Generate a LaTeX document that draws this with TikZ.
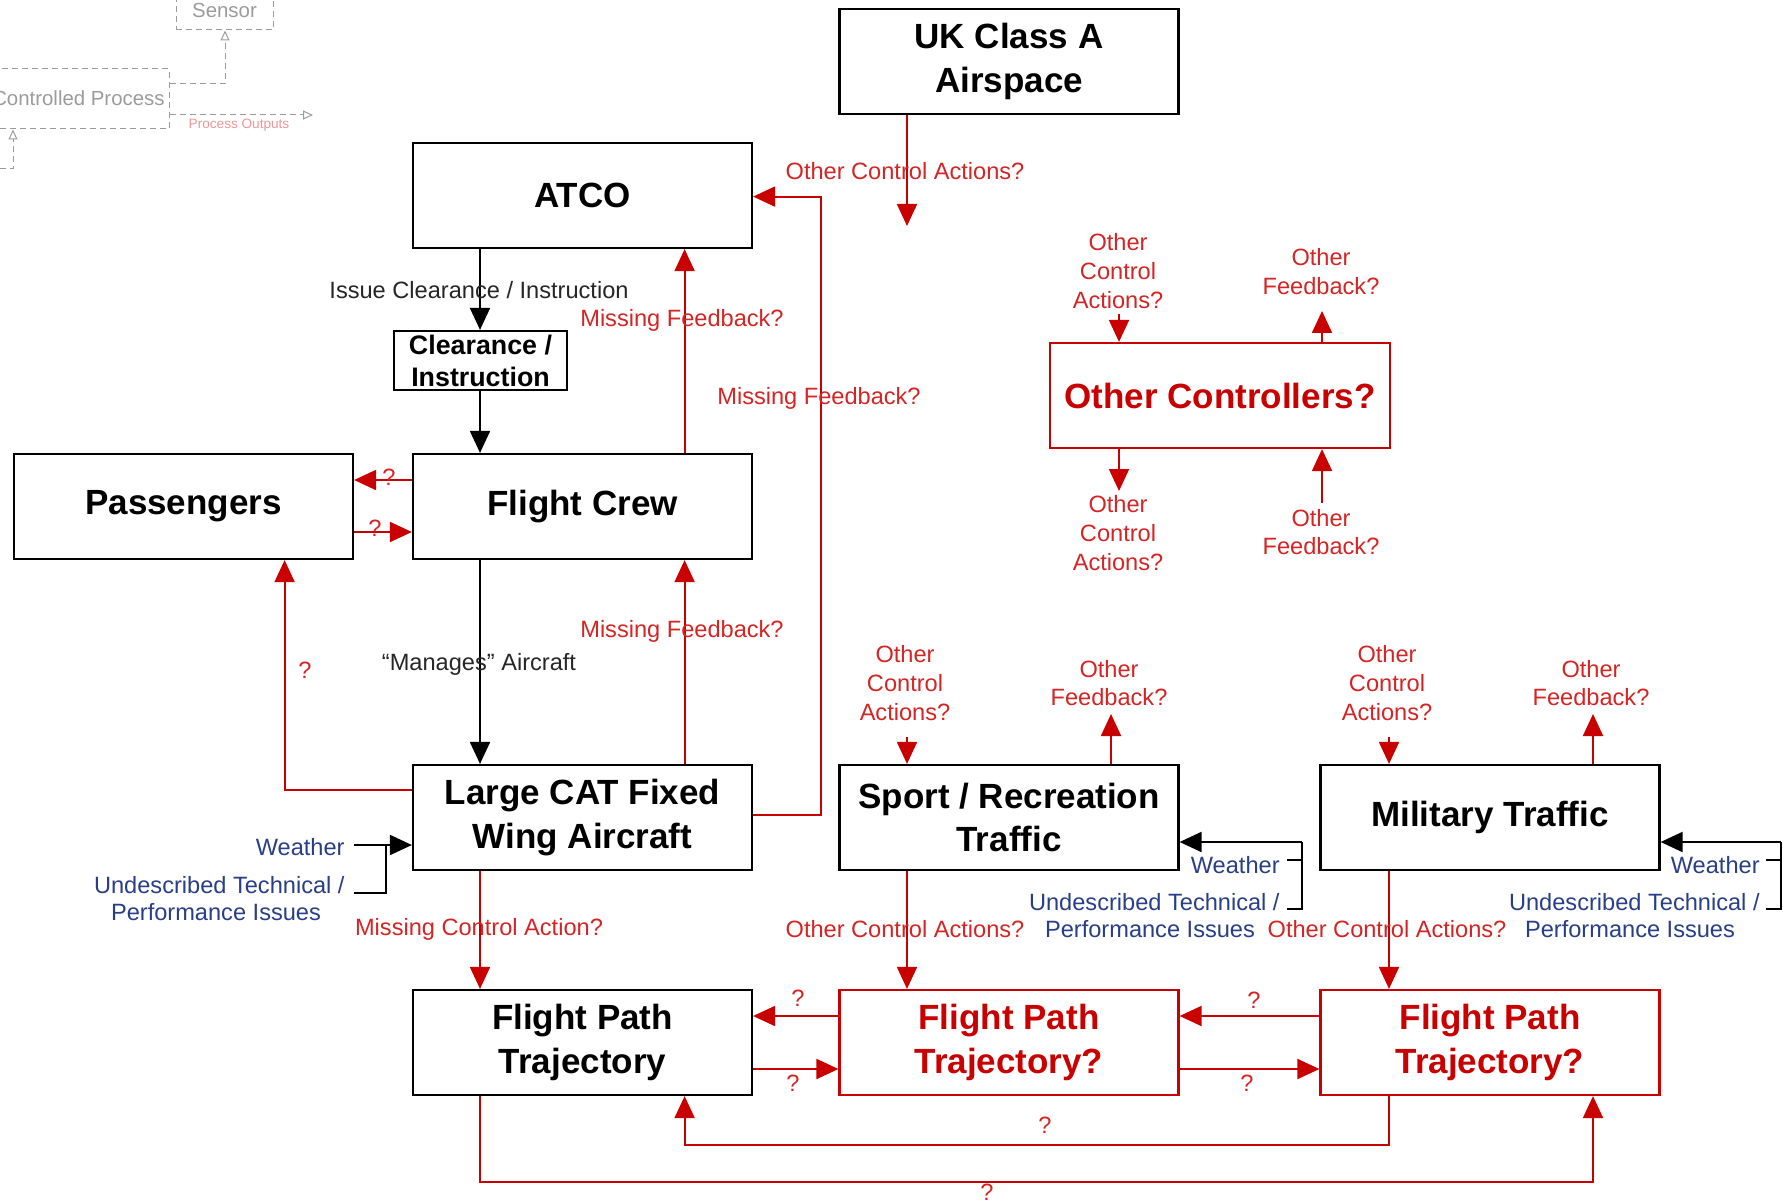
\documentclass[tikz,border=0pt]{standalone}
\usepackage{fontspec}
\setmainfont{Liberation Sans}
\usetikzlibrary{arrows.meta}
\definecolor{cRed}{RGB}{200,0,0}
\definecolor{cRedText}{RGB}{212,36,36}
\definecolor{cBlue}{RGB}{40,62,135}
\definecolor{cGray}{RGB}{155,155,155}
\definecolor{cPink}{RGB}{240,150,150}
\newcommand\boxfont{\fontsize{17.5}{21.7}\selectfont\bfseries}
\newcommand\smallboxfont{\fontsize{13.4}{16}\selectfont\bfseries}
\newcommand\labfont{\fontsize{11.8}{14.3}\selectfont}
\newcommand\ghostfont{\fontsize{10.2}{12}\selectfont}
\begin{document}
\begin{tikzpicture}[x=0.5pt,y=-0.5pt,
  box/.style={draw=black, line width=1.1pt, fill=white, minimum width=169.5pt,
    minimum height=52.5pt, inner sep=0pt, align=center, font=\boxfont},
  rbox/.style={box, draw=cRed, text=cRed},
  ctl/.style={draw=black, line width=1pt, -{Triangle[length=11pt,width=10pt]}},
  fb/.style={draw=cRed, line width=1pt, -{Triangle[length=11pt,width=10pt]}},
  plain/.style={draw=black, line width=1pt},
  rlab/.style={font=\labfont, text=cRedText, align=center, inner sep=0pt},
  klab/.style={font=\labfont, text=black!85, align=center, inner sep=0pt},
  blab/.style={font=\labfont, text=cBlue, align=center, inner sep=0pt},
  ghost/.style={draw=cGray, densely dashed, line width=0.5pt},
  ghostarrow/.style={ghost, -{Triangle[open,length=5pt,width=4.5pt]}},
  ghosttext/.style={font=\ghostfont, text=cGray, inner sep=0pt}]
\useasboundingbox (0,0) rectangle (1792,1203);
\clip (0,0) rectangle (1792,1203);

% faded legend fragment in the corner
\node[ghost, minimum width=134.5pt, minimum height=30pt, inner sep=0pt] (Proc) at (34.5,99) {};
\node[ghosttext, anchor=east] (ProcT) at (165,98) {Controlled Process};
\node[ghost, minimum width=48.5pt, minimum height=30pt, inner sep=0pt] (Sens) at (224.5,0) {};
\node[ghosttext] (SensT) at (224.5,10) {Sensor};
\coordinate (gS) at (225,84);
\coordinate (gO) at (313,115);
\coordinate (gL) at (0,169);
\coordinate (gB) at (13,169);
\draw[ghostarrow] (Proc.east |- gS) -- (gS) -- (Sens.south -| gS);
\draw[ghostarrow] (Proc.east |- gO) -- (gO);
\draw[ghostarrow] (gL) -- (gB) -- (Proc.south -| gB);
\node[font=\fontsize{6.8}{8}\selectfont, text=cPink, inner sep=0pt] (gOut) at (239,125) {Process Outputs};

% boxes
\node[box] (UK) at (1009,61.5) {UK Class A\\Airspace};
\node[box] (ATCO) at (582.5,195.5) {ATCO};
\node[box, minimum width=86.5pt, minimum height=29.5pt, font=\smallboxfont] (Clear) at (480.5,360.5) {Clearance /\\Instruction};
\node[box] (Pass) at (183.5,506.5) {Passengers};
\node[box] (FC) at (582.5,506.5) {Flight Crew};
\node[box] (CAT) at (582.5,817.5) {Large CAT Fixed\\Wing Aircraft};
\node[box] (Sport) at (1009,817.5) {Sport / Recreation\\Traffic};
\node[box] (Mil) at (1490,817.5) {Military Traffic};
\node[rbox, minimum width=170pt] (OC) at (1220,395.5) {Other Controllers?};
\node[box] (FPT1) at (582.5,1042.5) {Flight Path\\Trajectory};
\node[rbox] (FPT2) at (1009,1042.5) {Flight Path\\Trajectory?};
\node[rbox] (FPT3) at (1490,1042.5) {Flight Path\\Trajectory?};

% reference positions for the connectors
\coordinate (xL) at (480,0);
\coordinate (xF) at (684.6,0);
\coordinate (rTop) at (821,196.6);
\coordinate (rBot) at (821,815);
\coordinate (p1) at (0,480);
\coordinate (p2) at (0,532);
\coordinate (pc) at (284.6,790);
\coordinate (ukEnd) at (907,226);
\coordinate (ocA) at (1119,314);
\coordinate (ocB) at (1322,311);
\coordinate (ocC) at (1119,491);
\coordinate (ocD) at (1322,503);
\coordinate (spA) at (907,737);
\coordinate (spB) at (1111,714);
\coordinate (miA) at (1389,737);
\coordinate (miB) at (1593,714);
\coordinate (fu) at (0,1016);
\coordinate (fd) at (0,1069);
\coordinate (loopA) at (684.6,1145);
\coordinate (loopB) at (1593,1182);

% control actions
\draw[ctl] (ATCO.south -| xL) -- (Clear.north -| xL);
\draw[ctl] (Clear.south -| xL) -- (FC.north -| xL);
\draw[ctl] (FC.south -| xL) -- (CAT.north -| xL);

% feedback
\draw[fb] (FC.north -| xF) -- (ATCO.south -| xF);
\draw[fb] (CAT.north -| xF) -- (FC.south -| xF);
\draw[fb] (CAT.east |- rBot) -- (rBot) -- (rTop) -- (ATCO.east |- rTop);
\draw[fb] (FC.west |- p1) -- (Pass.east |- p1);
\draw[fb] (Pass.east |- p2) -- (FC.west |- p2);
\draw[fb] (CAT.west |- pc) -- (pc) -- (Pass.south -| pc);
\draw[fb] (UK.south -| ukEnd) -- (ukEnd);

% other controllers
\draw[fb] (ocA) -- (OC.north -| ocA);
\draw[fb] (OC.north -| ocB) -- (ocB);
\draw[fb] (OC.south -| ocC) -- (ocC);
\draw[fb] (ocD) -- (OC.south -| ocD);

% other traffic
\draw[fb] (spA) -- (Sport.north -| spA);
\draw[fb] (Sport.north -| spB) -- (spB);
\draw[fb] (miA) -- (Mil.north -| miA);
\draw[fb] (Mil.north -| miB) -- (miB);

% down to the trajectories
\draw[fb] (CAT.south -| xL) -- (FPT1.north -| xL);
\draw[fb] (Sport.south -| spA) -- (FPT2.north -| spA);
\draw[fb] (Mil.south -| miA) -- (FPT3.north -| miA);

% between trajectories
\draw[fb] (FPT2.west |- fu) -- (FPT1.east |- fu);
\draw[fb] (FPT1.east |- fd) -- (FPT2.west |- fd);
\draw[fb] (FPT3.west |- fu) -- (FPT2.east |- fu);
\draw[fb] (FPT2.east |- fd) -- (FPT3.west |- fd);
\draw[fb] (FPT3.south -| miA) |- (loopA) -- (FPT1.south -| loopA);
\draw[fb] (FPT1.south -| xL) |- (loopB) -- (FPT3.south -| loopB);

% disturbances
\coordinate (cwA) at (354,845);
\coordinate (cwK) at (386,845);
\coordinate (cwB) at (354,893);
\draw[ctl] (cwA) -- (CAT.west |- cwA);
\draw[plain] (cwB) -| (cwK);
\coordinate (swK) at (1302,842);
\coordinate (swA) at (1287,860);
\coordinate (swB) at (1287,909);
\draw[ctl] (swK) -- (Sport.east |- swK);
\draw[plain] (swA) -| (swK);
\draw[plain] (swB) -| (swK);
\coordinate (mwK) at (1781,842);
\coordinate (mwA) at (1766,860);
\coordinate (mwB) at (1766,909);
\draw[ctl] (mwK) -- (Mil.east |- mwK);
\draw[plain] (mwA) -| (mwK);
\draw[plain] (mwB) -| (mwK);

% labels
\node[rlab] (l1) at (905,171) {Other Control Actions?};
\node[klab] (l2) at (479,290) {Issue Clearance / Instruction};
\node[rlab] (l3) at (682,320) {Missing Feedback?};
\node[rlab] (l4) at (819,398) {Missing Feedback?};
\node[rlab] (l5) at (682,631) {Missing Feedback?};
\node[klab] (l6) at (479,664) {“Manages” Aircraft};
\node[rlab] (l7) at (305,670) {?};
\node[rlab] (l8) at (389,477) {?};
\node[rlab] (l9) at (375,528) {?};
\node[rlab] (l10) at (479,929) {Missing Control Action?};

\node[rlab] (o1) at (1118,271) {Other\\Control\\Actions?};
\node[rlab] (o2) at (1321,271.5) {Other\\Feedback?};
\node[rlab] (o3) at (1118,533) {Other\\Control\\Actions?};
\node[rlab] (o4) at (1321,532) {Other\\Feedback?};
\node[rlab] (o5) at (905,683) {Other\\Control\\Actions?};
\node[rlab] (o6) at (1109,683) {Other\\Feedback?};
\node[rlab] (o7) at (1387,683) {Other\\Control\\Actions?};
\node[rlab] (o8) at (1591,683) {Other\\Feedback?};
\node[rlab] (o9) at (905,929) {Other Control Actions?};
\node[rlab] (o10) at (1387,929) {Other Control Actions?};

\node[blab, anchor=east] (w1) at (345,847) {Weather};
\node[blab, anchor=east] (w2) at (345,885) {Undescribed Technical /};
\node[blab] (w3) at (216,912) {Performance Issues};
\node[blab, anchor=east] (w4) at (1280,865) {Weather};
\node[blab, anchor=east] (w5) at (1280,902) {Undescribed Technical /};
\node[blab] (w6) at (1150,929) {Performance Issues};
\node[blab, anchor=east] (w7) at (1760,865) {Weather};
\node[blab, anchor=east] (w8) at (1760,902) {Undescribed Technical /};
\node[blab] (w9) at (1630,929) {Performance Issues};

\node[rlab] (q1) at (798,998) {?};
\node[rlab] (q2) at (793,1083) {?};
\node[rlab] (q3) at (1254,1000) {?};
\node[rlab] (q4) at (1247,1083) {?};
\node[rlab] (q5) at (1045,1125) {?};
\node[rlab] (q6) at (987,1192) {?};
\end{tikzpicture}
\end{document}
